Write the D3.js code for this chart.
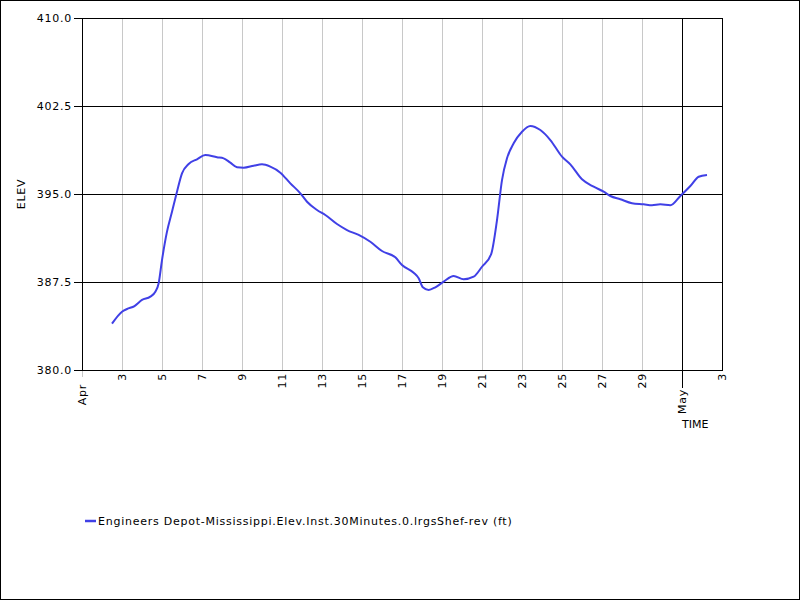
<!DOCTYPE html>
<html>
<head>
<meta charset="utf-8">
<script src="https://cdn.jsdelivr.net/npm/d3@7"></script>
<style>
  body { margin: 0; background: #fff; }
  text { font-family: "DejaVu Sans", sans-serif; font-size: 11px; letter-spacing: 0.75px; fill: #000; }
</style>
</head>
<body>
<script>
// series: 30 minute elevation
const times = [
  '2024-04-02T12:00', '2024-04-03T00:00', '2024-04-03T06:00', '2024-04-03T15:00', '2024-04-04T00:00',
  '2024-04-04T10:00', '2024-04-04T16:00', '2024-04-04T20:00', '2024-04-05T00:00', '2024-04-05T06:00',
  '2024-04-05T12:00', '2024-04-05T18:00', '2024-04-06T00:00', '2024-04-06T08:00', '2024-04-06T18:00',
  '2024-04-07T04:00', '2024-04-07T18:00', '2024-04-08T02:00', '2024-04-08T10:00', '2024-04-08T18:00',
  '2024-04-09T02:00', '2024-04-09T14:00', '2024-04-10T00:00', '2024-04-10T10:00', '2024-04-10T22:00',
  '2024-04-11T10:00', '2024-04-11T22:00', '2024-04-12T06:00', '2024-04-12T18:00', '2024-04-13T04:00',
  '2024-04-13T18:00', '2024-04-14T06:00', '2024-04-14T20:00', '2024-04-15T10:00', '2024-04-16T00:00',
  '2024-04-16T16:00', '2024-04-17T00:00', '2024-04-17T14:00', '2024-04-17T20:00', '2024-04-18T01:00',
  '2024-04-18T08:00', '2024-04-18T16:00', '2024-04-19T02:00', '2024-04-19T14:00', '2024-04-20T02:00',
  '2024-04-20T14:00', '2024-04-21T00:00', '2024-04-21T11:00', '2024-04-21T18:00', '2024-04-22T00:00',
  '2024-04-22T06:00', '2024-04-22T14:00', '2024-04-23T00:00', '2024-04-23T10:00', '2024-04-23T22:00',
  '2024-04-24T10:00', '2024-04-25T00:00', '2024-04-25T10:00', '2024-04-26T00:00', '2024-04-26T14:00',
  '2024-04-27T02:00', '2024-04-27T10:00', '2024-04-27T22:00', '2024-04-28T12:00', '2024-04-29T02:00',
  '2024-04-29T12:00', '2024-04-29T22:00', '2024-04-30T10:00', '2024-04-30T22:00', '2024-05-01T10:00',
  '2024-05-01T20:00', '2024-05-02T06:00'
]
const elev = [
  383.95, 384.97, 385.20, 385.45, 385.97,
  386.25, 386.67, 387.39, 389.37, 391.79,
  393.49, 395.20, 396.76, 397.56, 397.96,
  398.32, 398.13, 398.04, 397.67, 397.28,
  397.24, 397.41, 397.53, 397.33, 396.82,
  395.91, 395.06, 394.34, 393.64, 393.21,
  392.44, 391.93, 391.51, 390.93, 390.14,
  389.60, 388.95, 388.29, 387.82, 387.05,
  386.82, 387.05, 387.53, 388.01, 387.73,
  387.95, 388.80, 389.88, 392.78, 396.19,
  398.04, 399.32, 400.31, 400.80, 400.45,
  399.60, 398.18, 397.53, 396.25, 395.62,
  395.20, 394.83, 394.55, 394.21, 394.12,
  394.04, 394.12, 394.04, 394.83, 395.68,
  396.47, 396.62
]

const yTicks = [380, 387.5, 395, 402.5, 410]
const dayTicks = ['2024-04-03', '2024-04-05', '2024-04-07', '2024-04-09', '2024-04-11', '2024-04-13',
  '2024-04-15', '2024-04-17', '2024-04-19', '2024-04-21', '2024-04-23', '2024-04-25', '2024-04-27',
  '2024-04-29', '2024-05-03']
const dayLabels = ['3', '5', '7', '9', '11', '13', '15', '17', '19', '21', '23', '25', '27', '29', '3']
const monthTicks = ['2024-04-01', '2024-05-01']
const monthLabels = ['Apr', 'May']
const seriesName = 'Engineers Depot-Mississippi.Elev.Inst.30Minutes.0.lrgsShef-rev (ft)'

const parse = d3.utcParse('%Y-%m-%dT%H:%M')
const parseDay = d3.utcParse('%Y-%m-%d')
const data = times.map((t, i) => ({ t: parse(t), v: elev[i] }))

const W = 800, H = 600
const plotL = 82, plotT = 18, plotR = 722, plotB = 370

const svg = d3.select('body').append('svg')
  .attr('width', W)
  .attr('height', H)

svg.append('rect')
  .attr('x', 0.5).attr('y', 0.5)
  .attr('width', W - 1).attr('height', H - 1)
  .attr('fill', '#fff')
  .attr('stroke', '#000')

const x = d3.scaleUtc()
  .domain([parseDay('2024-04-01'), parseDay('2024-05-03')])
  .range([plotL, plotR])

const y = d3.scaleLinear()
  .domain([380, 410])
  .range([plotB, plotT])

// vertical grid (light) every 2 days
svg.append('g')
  .selectAll('line')
  .data(dayTicks.slice(0, -1))
  .join('line')
  .attr('x1', d => Math.round(x(parseDay(d))) + 0.5)
  .attr('x2', d => Math.round(x(parseDay(d))) + 0.5)
  .attr('y1', plotT)
  .attr('y2', plotB)
  .attr('stroke', '#c8c8c8')

// horizontal grid with small ticks out to the left
svg.append('g')
  .selectAll('line')
  .data(yTicks)
  .join('line')
  .attr('x1', (d, i) => (i === 0 || i === yTicks.length - 1) ? plotL - 8 : plotL - 8)
  .attr('x2', (d, i) => (i === 0 || i === yTicks.length - 1) ? plotL : plotR)
  .attr('y1', d => Math.round(y(d)) + 0.5)
  .attr('y2', d => Math.round(y(d)) + 0.5)
  .attr('stroke', '#000')

// month line across the plot and below the axis
const mayX = Math.round(x(parseDay(monthTicks[1]))) + 0.5
svg.append('line')
  .attr('x1', mayX).attr('x2', mayX)
  .attr('y1', plotT).attr('y2', plotB + 18)
  .attr('stroke', '#000')

// faint tick at Apr
const aprX = Math.round(x(parseDay(monthTicks[0]))) + 0.5
svg.append('line')
  .attr('x1', aprX).attr('x2', aprX)
  .attr('y1', plotB).attr('y2', plotB + 7)
  .attr('stroke', '#c8c8c8')

// plot frame
svg.append('rect')
  .attr('x', plotL + 0.5).attr('y', plotT + 0.5)
  .attr('width', plotR - plotL).attr('height', plotB - plotT)
  .attr('fill', 'none')
  .attr('stroke', '#000')

// y labels
svg.append('g')
  .selectAll('text')
  .data(yTicks)
  .join('text')
  .attr('x', plotL - 10)
  .attr('y', d => y(d))
  .attr('dy', '0.35em')
  .attr('text-anchor', 'end')
  .text(d3.format('.1f'))

svg.append('text')
  .attr('transform', `translate(21,${y(395)}) rotate(-90)`)
  .attr('text-anchor', 'middle')
  .attr('dy', '0.35em')
  .text('ELEV')

// day labels
svg.append('g')
  .selectAll('text')
  .data(dayTicks)
  .join('text')
  .attr('transform', d => `translate(${x(parseDay(d)) + 0.5},${plotB + 3}) rotate(-90)`)
  .attr('text-anchor', 'end')
  .attr('dy', '0.35em')
  .text((d, i) => dayLabels[i])

// month labels
svg.append('g')
  .selectAll('text')
  .data(monthTicks)
  .join('text')
  .attr('transform', (d, i) => `translate(${x(parseDay(d)) + 0.5},${plotB + (i ? 19 : 14)}) rotate(-90)`)
  .attr('text-anchor', 'end')
  .attr('dy', '0.35em')
  .text((d, i) => monthLabels[i])

svg.append('text')
  .attr('x', 682)
  .attr('y', 424)
  .attr('dy', '0.35em')
  .style('letter-spacing', '0px')
  .text('TIME')

// series
const line = d3.line()
  .x(d => x(d.t))
  .y(d => y(d.v))
  .curve(d3.curveMonotoneX)

svg.append('path')
  .datum(data)
  .attr('d', line)
  .attr('fill', 'none')
  .attr('stroke', '#4040e6')
  .attr('stroke-width', 2)

// legend
svg.append('line')
  .attr('x1', 85).attr('x2', 96)
  .attr('y1', 521).attr('y2', 521)
  .attr('stroke', '#4040e6')
  .attr('stroke-width', 2.5)

svg.append('text')
  .attr('x', 98)
  .attr('y', 521)
  .attr('dy', '0.35em')
  .text(seriesName)
</script>
</body>
</html>
